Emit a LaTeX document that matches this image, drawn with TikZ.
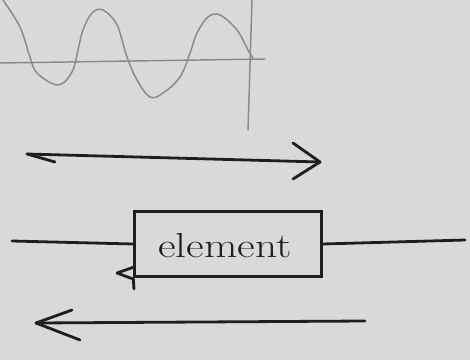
\documentclass[tikz,border=0pt]{standalone}
\usetikzlibrary{positioning}
\definecolor{paper}{HTML}{D9D9D7}
\definecolor{ink}{HTML}{1E1E1E}
\definecolor{pencil}{HTML}{8A8A8A}
\begin{document}
\begin{tikzpicture}[x=0.75pt,y=-0.75pt,
  inkline/.style={draw=ink,line width=2.1pt,line cap=round,line join=round},
  pencilline/.style={draw=pencil,line width=1.1pt,line cap=round,line join=round},
  elementbox/.style={draw=ink,line width=2.1pt,minimum width=140pt,minimum height=49pt,inner sep=0pt},
  label/.style={text=ink,font=\fontsize{26}{30}\selectfont}]
\fill[paper] (0,0) rectangle (470,360);
\useasboundingbox (0,0) rectangle (470,360);
% pencil axes
\coordinate (axL) at (0,63);
\coordinate (axR) at (265,59);
\coordinate (vT) at (252,0);
\coordinate (vB) at (248,130);
\draw[pencilline] (axL) -- (axR);
\draw[pencilline] (vT) -- (vB);
% pencil wave
\draw[pencilline] plot[smooth,tension=0.6] coordinates {
 (3,0) (20,27) (30,57) (37,73) (58,85) (72,72) (78,50) (83,30) (92,13) (103,10)
 (117,25) (127,57) (137,80) (150,97) (163,93) (180,77) (190,53) (197,33) (208,17)
 (220,15) (237,30) (248,50) (253,58)};
% top arrow
\coordinate (tA) at (27,154);
\coordinate (tB) at (320,162);
\coordinate (tTail) at (55,162);
\coordinate (tH1) at (293,143);
\coordinate (tH2) at (293,179);
\draw[inkline] (tA) -- (tB);
\draw[inkline] (tA) -- (tTail);
\draw[inkline] (tH1) -- (tB) -- (tH2);
% element box
\node[elementbox] (el) at (228,244) {};
\node[label] (txt) at (225,246) {\scalebox{1.25}[1]{element}};
\coordinate (inL) at (12,241);
\coordinate (outR) at (465,240);
\draw[inkline] (inL) -- (el.west);
\draw[inkline] (el.east) -- (outR);
\coordinate (lk) at (134,289);
\draw[inkline] (el.south west) -- (lk);
\coordinate (hk1) at (134,267);
\coordinate (hk2) at (117,273);
\coordinate (hk3) at (133,279);
\draw[inkline] (hk1) -- (hk2) -- (hk3);
% bottom arrow
\coordinate (bA) at (365,321);
\coordinate (bB) at (36,323);
\coordinate (bH1) at (72,310);
\coordinate (bH2) at (80,340);
\draw[inkline] (bA) -- (bB);
\draw[inkline] (bH1) -- (bB) -- (bH2);
\end{tikzpicture}
\end{document}
